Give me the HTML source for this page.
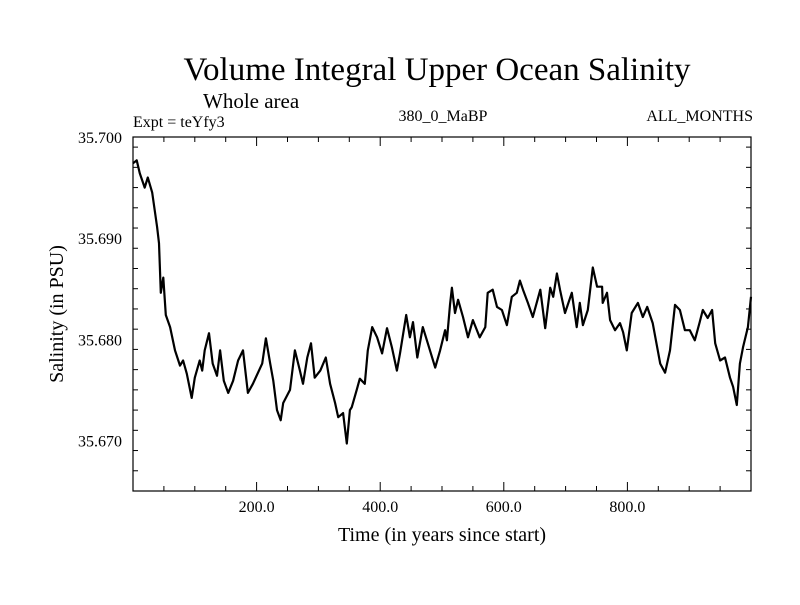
<!DOCTYPE html>
<html><head><meta charset="utf-8"><style>
body{margin:0;background:#fff;}
svg text{font-family:"Liberation Serif",serif;fill:#000;}
</style></head><body>
<svg id="chart" width="800" height="600" viewBox="0 0 800 600" xmlns="http://www.w3.org/2000/svg">
<rect width="800" height="600" fill="#fff"/>
<text x="437" y="80" font-size="33" text-anchor="middle">Volume Integral Upper Ocean Salinity</text>
<text x="203" y="108" font-size="21">Whole area</text>
<text x="133" y="127" font-size="16">Expt = teYfy3</text>
<text x="443" y="121" font-size="16" text-anchor="middle">380_0_MaBP</text>
<text x="753" y="121" font-size="16" text-anchor="end">ALL_MONTHS</text>
<text x="442" y="541" font-size="20" text-anchor="middle">Time (in years since start)</text>
<text transform="translate(63,314) rotate(-90)" font-size="20" text-anchor="middle">Salinity (in PSU)</text>
<g id="ticks"></g>
<g id="labels"></g>
<path id="series" fill="none" stroke="#000" stroke-width="2.2" stroke-linejoin="round"/>
<rect x="133" y="137" width="618" height="354" fill="none" stroke="#000" stroke-width="1.2"/>
</svg>
<script>
const years=[0,6,11,19,24,31,39,42,45,49,53,60,68,76,81,87,95,100,108,112,116,123,129,136,141,147,154,162,170,178,186,194,209,215,222,227,233,239,243,254,262,270,275,282,288,294,303,312,319,327,332,340,346,351,354,362,367,375,380,387,395,403,411,419,427,432,442,448,453,460,469,477,489,497,505,508,513,516,521,526,534,542,550,561,570,574,582,589,597,605,613,621,626,631,639,647,659,667,675,680,686,691,699,710,718,723,728,736,744,751,759,760,767,772,780,788,793,799,807,817,825,832,841,853,861,869,877,885,893,901,909,917,922,930,937,942,950,958,966,971,977,982,987,995,1000];
const salinity=[35.6974,35.6977,35.6964,35.6950,35.6960,35.6945,35.6911,35.6895,35.6846,35.6861,35.6824,35.6812,35.6789,35.6774,35.6779,35.6766,35.6742,35.6762,35.6779,35.6769,35.6789,35.6806,35.6776,35.6764,35.6789,35.6759,35.6747,35.6759,35.6779,35.6789,35.6747,35.6756,35.6776,35.6801,35.6776,35.6759,35.6730,35.6720,35.6737,35.6750,35.6789,35.6769,35.6756,35.6782,35.6796,35.6762,35.6769,35.6782,35.6756,35.6737,35.6723,35.6727,35.6697,35.6730,35.6733,35.6750,35.6761,35.6756,35.6789,35.6812,35.6802,35.6786,35.6811,35.6792,35.6769,35.6786,35.6824,35.6802,35.6817,35.6782,35.6812,35.6796,35.6772,35.6789,35.6809,35.6799,35.6834,35.6851,35.6826,35.6839,35.6822,35.6802,35.6819,35.6802,35.6812,35.6846,35.6849,35.6832,35.6829,35.6814,35.6842,35.6846,35.6858,35.6849,35.6836,35.6822,35.6849,35.6811,35.6851,35.6842,35.6865,35.6849,35.6826,35.6846,35.6812,35.6836,35.6814,35.6829,35.6871,35.6852,35.6852,35.6836,35.6846,35.6819,35.6809,35.6816,35.6807,35.6789,35.6826,35.6836,35.6822,35.6832,35.6816,35.6776,35.6767,35.6789,35.6834,35.6829,35.6809,35.6809,35.6799,35.6817,35.6829,35.6821,35.6829,35.6796,35.6779,35.6782,35.6762,35.6753,35.6735,35.6776,35.6792,35.6812,35.6842];
const xTickLabels=["200.0","400.0","600.0","800.0"];
const xTickValues=[200,400,600,800];
const yTickLabels=["35.670","35.680","35.690","35.700"];
const yTickValues=[35.670,35.680,35.690,35.700];

const X0=133,X1=751,Y0=137,Y1=491;
const xMin=0,xMax=1000,yMin=35.665,yMax=35.700;
function sx(v){return X0+(v-xMin)/(xMax-xMin)*(X1-X0);}
function sy(v){return Y1-(v-yMin)/(yMax-yMin)*(Y1-Y0);}
const NS="http://www.w3.org/2000/svg";
let d="";
for(let i=0;i<years.length;i++){d+=(i?"L":"M")+sx(years[i]).toFixed(1)+","+sy(salinity[i]).toFixed(1);}
document.getElementById('series').setAttribute('d',d);
const tg=document.getElementById('ticks');
function line(x1,y1,x2,y2,name){const l=document.createElementNS(NS,'line');l.setAttribute('x1',x1);l.setAttribute('y1',y1);l.setAttribute('x2',x2);l.setAttribute('y2',y2);l.setAttribute('stroke','#000');l.setAttribute('stroke-width','1');


tg.appendChild(l);}
for(let v=50;v<1000;v+=50){const maj=v%200===0;const L=maj?9:5;const x=sx(v);line(x,Y1,x,Y1-L,'x-tick');line(x,Y0,x,Y0+L,'x-tick-top');}
for(let k=1;k<18;k++){const v=yMin+k*0.002;const maj=Math.abs((v*1000)%10)<0.01||Math.abs((v*1000)%10-10)<0.01;const L=maj?9:5;const y=sy(v);line(X0,y,X0+L,y,'y-tick');line(X1,y,X1-L,y,'y-tick-right');}
const lg=document.getElementById('labels');
function txt(x,y,s,anchor,name){const t=document.createElementNS(NS,'text');t.setAttribute('x',x);t.setAttribute('y',y);t.setAttribute('font-size','16');t.setAttribute('text-anchor',anchor);t.textContent=s;


lg.appendChild(t);}
xTickValues.forEach((v,i)=>txt(sx(v),512,xTickLabels[i],'middle','x-tick-label'));
yTickValues.forEach((v,i)=>txt(122,sy(v)+6,yTickLabels[i],'end','y-tick-label'));
</script>
</body></html>
